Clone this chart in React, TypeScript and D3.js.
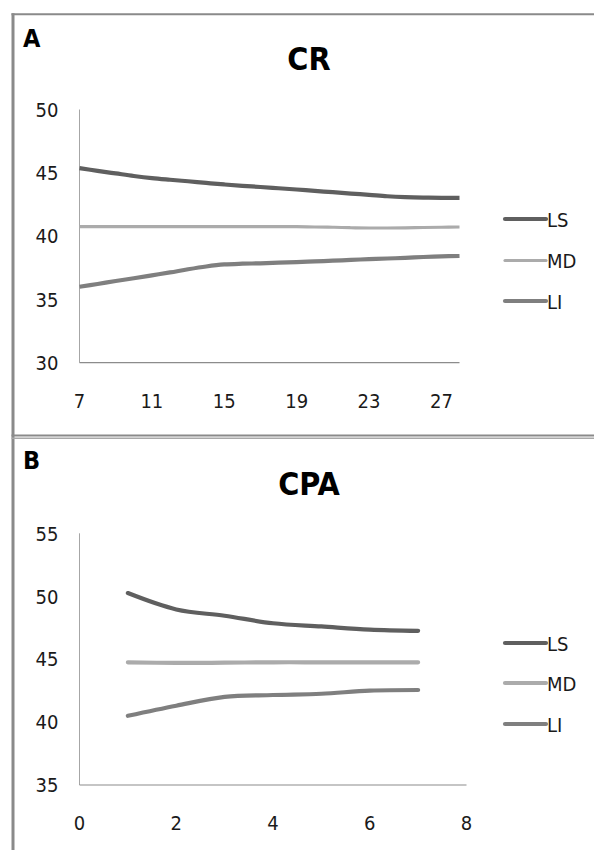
import React from "react";
import * as d3 from "d3";

// ---------- data ----------
const crDays = [7, 8, 9, 10, 11, 12, 13, 14, 15, 16, 17, 18, 19, 20, 21, 22, 23, 24, 25, 26, 27, 28];
const crLS = [45.37, 45.15, 44.95, 44.75, 44.58, 44.45, 44.33, 44.2, 44.08, 43.97, 43.88, 43.78, 43.68, 43.57, 43.47, 43.36, 43.26, 43.15, 43.08, 43.04, 43.02, 43.02];
const crMD = [40.75, 40.75, 40.75, 40.75, 40.75, 40.75, 40.75, 40.75, 40.75, 40.75, 40.75, 40.75, 40.75, 40.72, 40.7, 40.66, 40.64, 40.64, 40.65, 40.68, 40.7, 40.72];
const crLI = [36.0, 36.22, 36.45, 36.67, 36.9, 37.13, 37.38, 37.6, 37.76, 37.82, 37.85, 37.9, 37.95, 38.0, 38.06, 38.12, 38.18, 38.23, 38.28, 38.35, 38.4, 38.43];
const crXTicks = [7, 11, 15, 19, 23, 27];
const crYTicks = [30, 35, 40, 45, 50];

const cpaX = [1, 2, 3, 4, 5, 6, 7];
const cpaLS = [50.25, 48.95, 48.45, 47.85, 47.6, 47.35, 47.25];
const cpaMD = [44.75, 44.7, 44.72, 44.75, 44.75, 44.75, 44.75];
const cpaLI = [40.5, 41.3, 42.0, 42.15, 42.25, 42.5, 42.55];
const cpaXTicks = [0, 2, 4, 6, 8];
const cpaYTicks = [35, 40, 45, 50, 55];

const seriesNames = ["LS", "MD", "LI"];
const seriesColors = ["#5f5f5f", "#ababab", "#7f7f7f"];

const FONT = "'DejaVu Sans Condensed', 'Liberation Sans Narrow', 'DejaVu Sans', sans-serif";

type PanelProps = {
  letter: string;
  title: string;
  letterY: number;
  titleY: number;
  xs: number[];
  series: number[][];
  xDomain: [number, number];
  xRange: [number, number];
  yDomain: [number, number];
  yRange: [number, number];
  xTicks: number[];
  yTicks: number[];
  legendY: number[];
  widths: number[];
  cap: "butt" | "round";
};

function Panel(p: PanelProps) {
  const x = d3.scaleLinear().domain(p.xDomain).range(p.xRange);
  const y = d3.scaleLinear().domain(p.yDomain).range(p.yRange);
  const x0 = p.xRange[0];
  const yBottom = p.yRange[0];
  return (
    <g>
      <text x={23} y={p.letterY} fontFamily={FONT} fontWeight="bold" fontSize={25} fill="#000">
        {p.letter}
      </text>
      <text x={309} y={p.titleY} textAnchor="middle" fontFamily={FONT} fontWeight="bold" fontSize={32} fill="#000">
        {p.title}
      </text>
      {/* axes */}
      <line x1={x0} x2={x0} y1={p.yRange[1]} y2={yBottom} stroke="#a6a6a6" strokeWidth={1} />
      <line x1={x0} x2={p.xRange[1]} y1={yBottom} y2={yBottom} stroke="#8c8c8c" strokeWidth={1.2} />
      {p.yTicks.map((t) => (
        <text key={"y" + t} x={58.5} y={y(t) + 7.3} textAnchor="end" fontFamily={FONT} fontSize={20} fill="#1a1a1a">
          {t}
        </text>
      ))}
      {p.xTicks.map((t) => (
        <text key={"x" + t} x={x(t)} y={yBottom + 44.8} textAnchor="middle" fontFamily={FONT} fontSize={20} fill="#1a1a1a">
          {t}
        </text>
      ))}
      {p.series.map((s, i) => {
        const line = d3
          .line<number>()
          .x((_, j) => x(p.xs[j]))
          .y((v) => y(v))
          .curve(d3.curveCatmullRom.alpha(0.5));
        return (
          <path
            key={"s" + i}
            d={line(s) || ""}
            fill="none"
            stroke={seriesColors[i]}
            strokeWidth={p.widths[i]}
            strokeLinecap={p.cap}
            strokeLinejoin="round"
          />
        );
      })}
      {seriesNames.map((n, i) => (
        <g key={"l" + n}>
          <line x1={505} x2={546} y1={p.legendY[i]} y2={p.legendY[i]} stroke={seriesColors[i]} strokeWidth={p.widths[i]} strokeLinecap="round" />
          <text x={547} y={p.legendY[i] + 7.5} fontFamily={FONT} fontSize={20} fill="#1a1a1a">
            {n}
          </text>
        </g>
      ))}
    </g>
  );
}

export default function App() {
  return (
    <svg
      width={594}
      height={850}
      style={{ position: "absolute", left: 0, top: 0, background: "#fff" }}
    >
      <rect x={0} y={0} width={594} height={850} fill="#fff" />
      {/* frame */}
      <line x1={13} x2={13} y1={13.3} y2={850} stroke="#8a8a8a" strokeWidth={3} />
      <line x1={11.5} x2={600} y1={14.3} y2={14.3} stroke="#8a8a8a" strokeWidth={2} />
      <line x1={11.5} x2={600} y1={435.6} y2={435.6} stroke="#8a8a8a" strokeWidth={2} />
      <line x1={11.5} x2={600} y1={438.3} y2={438.3} stroke="#a8a8a8" strokeWidth={1.5} />

      <Panel
        letter="A"
        title="CR"
        letterY={47}
        titleY={70}
        xs={crDays}
        series={[crLS, crMD, crLI]}
        xDomain={[7, 28]}
        xRange={[79.5, 459.5]}
        yDomain={[30, 50]}
        yRange={[362.7, 109.5]}
        xTicks={crXTicks}
        yTicks={crYTicks}
        legendY={[219, 260.5, 301]}
        widths={[4.2, 3.2, 4.2]}
        cap="butt"
      />
      <Panel
        letter="B"
        title="CPA"
        letterY={469}
        titleY={495}
        xs={cpaX}
        series={[cpaLS, cpaMD, cpaLI]}
        xDomain={[0, 8]}
        xRange={[79.5, 466.5]}
        yDomain={[35, 55]}
        yRange={[785, 533.3]}
        xTicks={cpaXTicks}
        yTicks={cpaYTicks}
        legendY={[643, 683, 724]}
        widths={[4.2, 4.2, 4.2]}
        cap="round"
      />
    </svg>
  );
}
